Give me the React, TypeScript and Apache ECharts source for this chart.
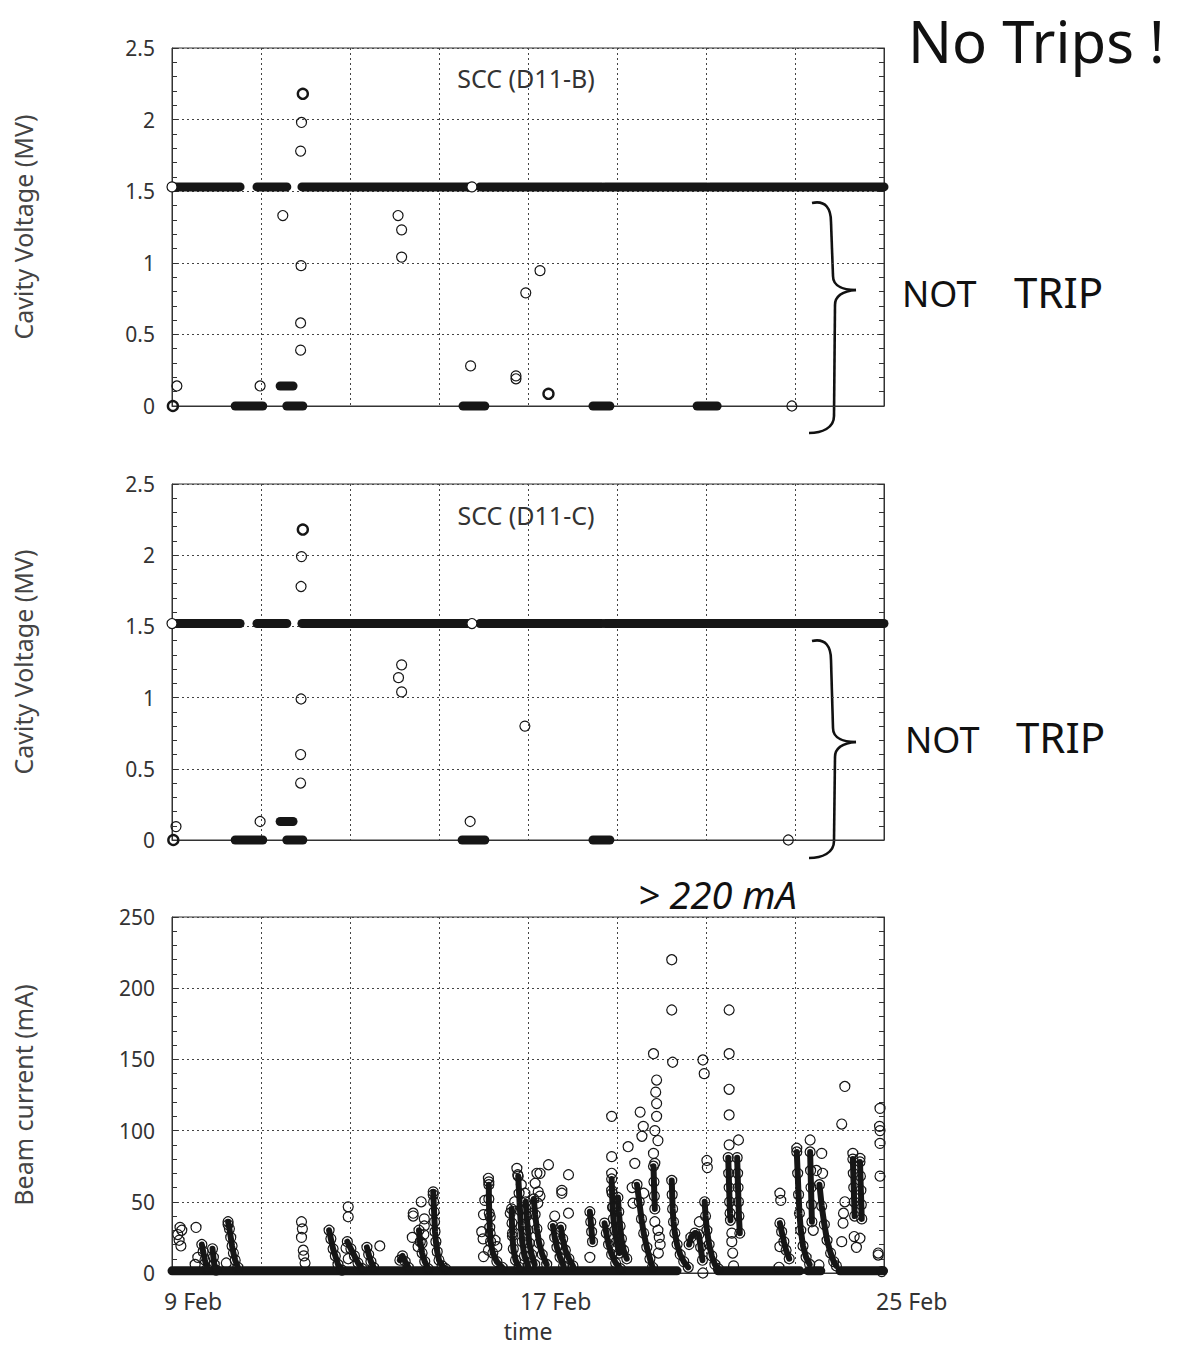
import React, { useEffect, useRef } from "react";
import * as echarts from "echarts";

const FONT = '"Noto Sans", "DejaVu Sans", sans-serif';
const INK = "#161616";
const TXT = "#333";

// x is measured in days since 9 Feb
const xTickDays = [0, 8, 16];
const xTickLabels = ["9 Feb", "17 Feb", "25 Feb"];

// [startDay, endDay, value] dense runs of points
const voltBRuns = [
  [0.0, 1.53, 1.53], [1.91, 2.58, 1.53], [2.92, 6.74, 1.53], [6.92, 9.66, 1.53],
  [9.73, 12.02, 1.53], [12.09, 16.0, 1.53],
  [1.42, 2.04, 0], [2.58, 2.94, 0], [6.54, 7.03, 0], [9.46, 9.84, 0], [11.8, 12.25, 0],
  [2.43, 2.72, 0.14],
];
const voltBPoints = [
  [2.91, 1.98], [2.89, 1.78], [2.49, 1.33], [2.9, 0.98], [2.89, 0.58], [2.89, 0.39],
  [0.11, 0.14], [1.98, 0.14], [5.08, 1.33], [5.16, 1.23], [5.16, 1.04], [6.71, 0.28],
  [7.73, 0.19], [7.73, 0.21], [7.95, 0.79], [8.27, 0.945], [13.93, 0.0],
];
const voltBBold = [[2.94, 2.18], [8.46, 0.085], [0.02, 0.0]];
const voltBOnLine = [[0.0, 1.53], [6.74, 1.53]];

const voltCRuns = [
  [0.0, 1.53, 1.52], [1.91, 2.58, 1.52], [2.92, 6.74, 1.52], [6.92, 9.66, 1.52],
  [9.73, 16.0, 1.52],
  [1.42, 2.04, 0], [2.58, 2.94, 0], [6.52, 7.03, 0], [9.46, 9.84, 0],
  [2.43, 2.72, 0.13],
];
const voltCPoints = [
  [2.91, 1.99], [2.9, 1.78], [2.9, 0.99], [2.89, 0.6], [2.89, 0.4], [0.09, 0.094],
  [1.98, 0.13], [5.16, 1.23], [5.09, 1.14], [5.16, 1.04], [6.7, 0.13], [7.93, 0.8],
  [13.85, 0.0],
];
const voltCBold = [[2.94, 2.18], [0.03, 0.0]];
const voltCOnLine = [[0.0, 1.52], [6.74, 1.52]];

// beam current (mA)
const beamBaselineRuns = [
  [0.0, 11.35, 1.5], [12.27, 14.11, 1.5], [14.29, 14.58, 1.5], [15.01, 15.99, 1.5],
];
const beamChains = [
  [[0.67, 20], [0.7, 15], [0.74, 9], [0.79, 3]],
  [[0.91, 17], [0.93, 11], [0.95, 6], [0.99, 2]],
  [[1.26, 36], [1.29, 31], [1.32, 25], [1.35, 19], [1.38, 14], [1.42, 9], [1.48, 4]],
  [[3.53, 30], [3.57, 24], [3.62, 17], [3.67, 12], [3.73, 6], [3.82, 2]],
  [[3.94, 22], [4.02, 17], [4.1, 12], [4.18, 7], [4.28, 3]],
  [[4.38, 18], [4.42, 13], [4.47, 8], [4.53, 4]],
  [[5.12, 9], [5.18, 12], [5.24, 8], [5.31, 4]],
  [[5.55, 30], [5.58, 22], [5.62, 14], [5.68, 8], [5.76, 3]],
  [[5.87, 57], [5.88, 50], [5.89, 43], [5.9, 36], [5.91, 29], [5.93, 22], [5.96, 15], [6.0, 9], [6.07, 5], [6.15, 3]],
  [[7.12, 62], [7.12, 52], [7.13, 42], [7.14, 32], [7.16, 22], [7.21, 14], [7.3, 8], [7.42, 4]],
  [[7.63, 45], [7.64, 35], [7.65, 26], [7.67, 17], [7.72, 9], [7.8, 4]],
  [[7.78, 68], [7.8, 56], [7.82, 44], [7.84, 33], [7.87, 22], [7.92, 12], [8.0, 5]],
  [[7.95, 50], [7.97, 40], [8.0, 30], [8.03, 21], [8.08, 13], [8.15, 6]],
  [[8.13, 52], [8.16, 41], [8.2, 31], [8.25, 21], [8.32, 13], [8.42, 6]],
  [[8.56, 33], [8.6, 25], [8.65, 18], [8.72, 11], [8.8, 5]],
  [[8.74, 32], [8.78, 24], [8.84, 16], [8.92, 10], [9.01, 5]],
  [[9.39, 43], [9.41, 36], [9.43, 29], [9.45, 22]],
  [[9.72, 35], [9.76, 28], [9.81, 20], [9.88, 13], [9.97, 7], [10.08, 3]],
  [[9.88, 66], [9.89, 56], [9.9, 46], [9.92, 38], [9.95, 30], [9.99, 22], [10.05, 14]],
  [[10.02, 53], [10.04, 43], [10.07, 33], [10.1, 24], [10.15, 16], [10.22, 10]],
  [[10.45, 62], [10.5, 50], [10.55, 38], [10.6, 28], [10.67, 18], [10.74, 10], [10.8, 4]],
  [[10.82, 75], [10.83, 64], [10.84, 54], [10.85, 45]],
  [[11.23, 65], [11.24, 55], [11.25, 45], [11.27, 36], [11.3, 28], [11.35, 20], [11.42, 13], [11.5, 8], [11.6, 4]],
  [[11.62, 20], [11.66, 25], [11.75, 28], [11.84, 27], [11.88, 18], [11.92, 9]],
  [[11.97, 50], [11.99, 40], [12.02, 30], [12.07, 20], [12.13, 12], [12.2, 6], [12.28, 3]],
  [[12.5, 81], [12.51, 70], [12.52, 60], [12.53, 50], [12.54, 42], [12.55, 37]],
  [[12.7, 81], [12.71, 70], [12.72, 60], [12.73, 50], [12.74, 40], [12.76, 28]],
  [[13.66, 35], [13.7, 29], [13.75, 22], [13.8, 16], [13.87, 10]],
  [[14.04, 85], [14.06, 70], [14.08, 55], [14.1, 42], [14.13, 30], [14.18, 19], [14.25, 11], [14.33, 6]],
  [[14.34, 85], [14.35, 72], [14.36, 60], [14.37, 48], [14.38, 36]],
  [[14.55, 62], [14.6, 47], [14.66, 34], [14.72, 23], [14.8, 14], [14.87, 8], [14.93, 5]],
  [[15.3, 80], [15.31, 70], [15.32, 60], [15.33, 50], [15.34, 40]],
  [[15.46, 78], [15.47, 68], [15.48, 58], [15.49, 48], [15.5, 38]],
];
const beamPoints = [
  [0.13, 27], [0.18, 32], [0.22, 30], [0.16, 23], [0.2, 19], [0.54, 32], [0.52, 6], [0.58, 11],
  [1.26, 34], [1.22, 7],
  [2.91, 36], [2.93, 31], [2.91, 25], [2.95, 16], [2.96, 12], [2.99, 7],
  [3.96, 46.5], [3.96, 39.5], [3.91, 17.5], [3.96, 10],
  [4.67, 19],
  [5.42, 42], [5.42, 40], [5.4, 25], [5.53, 18.5], [5.6, 50], [5.67, 38], [5.67, 33], [5.66, 27], [5.62, 21], [5.87, 55],
  [7.11, 66.5], [7.12, 64], [7.03, 51], [7.0, 41], [6.96, 29], [6.99, 24], [7.15, 39.5], [7.15, 28], [7.11, 16], [7.0, 11.5], [7.3, 18.5], [7.26, 23],
  [7.75, 73.5], [7.77, 69], [7.85, 62], [7.93, 56], [7.95, 45], [7.6, 42], [7.65, 28], [8.2, 70], [8.22, 49], [8.27, 70], [8.16, 63], [8.46, 76], [8.27, 54], [7.7, 50], [8.1, 42], [8.23, 57],
  [8.91, 69], [8.76, 58], [8.76, 56], [8.91, 42], [8.6, 40],
  [9.39, 11],
  [9.88, 110], [9.88, 81.7], [9.88, 70], [9.88, 58], [9.91, 46.5],
  [10.25, 88.7], [10.52, 113], [10.59, 103], [10.56, 96], [10.4, 77], [10.36, 49], [10.34, 60], [10.6, 56],
  [10.82, 154], [10.89, 135.5], [10.87, 127], [10.89, 119], [10.89, 110], [10.85, 100], [10.92, 93], [10.82, 84], [10.85, 77], [10.85, 36], [10.92, 30], [10.95, 25], [10.97, 20], [10.93, 14],
  [11.23, 220], [11.23, 184.7], [11.25, 148], [11.85, 36],
  [11.93, 149.6], [11.96, 140], [12.02, 79], [12.03, 74], [11.93, 0],
  [12.52, 184.7], [12.52, 154], [12.52, 129], [12.52, 111], [12.52, 90], [12.73, 93.4], [12.58, 28], [12.58, 22], [12.6, 14], [12.62, 5],
  [13.66, 56], [13.68, 51], [13.66, 18.5], [13.64, 4],
  [14.04, 87.6], [14.34, 93.4], [14.6, 84], [14.62, 70], [14.41, 30], [14.54, 5.6], [14.48, 72],
  [15.12, 131], [15.05, 104.6], [15.12, 50], [15.09, 42], [15.08, 35], [15.05, 22], [15.3, 84], [15.46, 80.5], [15.33, 25.6], [15.46, 24.4], [15.38, 18],
  [15.91, 115.6], [15.9, 103], [15.91, 100], [15.91, 91], [15.91, 68], [15.87, 12.6], [15.87, 14], [15.95, 1],
];

function runSeries(runs: number[][], idx: number, width: number) {
  return runs.map(([a, b, v]) => ({
    type: "line", xAxisIndex: idx, yAxisIndex: idx * 2,
    data: [[a, v], [b, v]], symbol: "none", silent: true, clip: false, z: 3,
    lineStyle: { width, color: INK, cap: "round" },
  }));
}
function scatter(points: number[][], idx: number, bw: number, fill: string, z = 4) {
  return {
    type: "scatter", xAxisIndex: idx, yAxisIndex: idx * 2, data: points,
    symbol: "circle", symbolSize: 10, clip: false, silent: true, z,
    itemStyle: { color: fill, borderColor: INK, borderWidth: bw, opacity: 1 },
  };
}
function chainSeries(chains: number[][][], idx: number) {
  return chains.map((c) => ({
    type: "line", xAxisIndex: idx, yAxisIndex: idx * 2, data: c,
    symbol: "circle", symbolSize: 10, showSymbol: true, silent: true, clip: false, z: 3,
    lineStyle: { width: 6, color: INK, cap: "round", join: "round" },
    itemStyle: { color: "rgba(255,255,255,0)", borderColor: INK, borderWidth: 1.2 },
  }));
}

const GRIDS = [
  { left: 172, top: 48, width: 712, height: 358 },
  { left: 172, top: 484, width: 712, height: 356 },
  { left: 172, top: 917, width: 712, height: 356 },
];

function yAxes(idx: number, max: number, interval: number, name: string) {
  const common = {
    gridIndex: idx, type: "value", min: 0, max, interval,
    axisLine: { show: true, lineStyle: { color: "#333", width: 1 } },
    axisTick: { show: true, inside: true, length: 6, lineStyle: { color: "#333" } },
    minorTick: { show: true, splitNumber: 5, length: 5, lineStyle: { color: "#333" } },
  };
  return [
    {
      ...common, position: "left",
      splitLine: { show: true, lineStyle: { type: [2, 3], color: "#444", width: 1 } },
      axisLabel: { fontSize: 21, color: TXT, fontFamily: FONT, margin: 17 },
      name, nameLocation: "middle", nameGap: 137,
      nameTextStyle: { fontSize: 25, color: "#444", fontFamily: FONT },
    },
    {
      ...common, position: "right",
      splitLine: { show: false }, axisLabel: { show: false },
    },
  ];
}

function xAxis(idx: number, showLabels: boolean) {
  return {
    gridIndex: idx, type: "value", min: 0, max: 16, interval: 2,
    axisLine: { show: true, lineStyle: { color: "#333" } },
    axisTick: { show: false },
    splitLine: { show: true, lineStyle: { type: [2, 3], color: "#444", width: 1 } },
    axisLabel: showLabels
      ? {
          show: true, fontSize: 23, color: TXT, fontFamily: FONT, margin: 16, align: "left",
          padding: [0, 0, 0, -8],
          showMinLabel: true, showMaxLabel: true,
          formatter: (v: number) => {
            const i = xTickDays.indexOf(v);
            return i >= 0 ? xTickLabels[i] : "";
          },
        }
      : { show: false },
    name: showLabels ? "time" : "",
    nameLocation: "middle", nameGap: 46,
    nameTextStyle: { fontSize: 23, color: TXT, fontFamily: FONT },
  };
}

function brace(top: number, tip: number, bottom: number) {
  const st = { stroke: "#111", lineWidth: 2.6, fill: "none" };
  return [
    { type: "bezierCurve", shape: { x1: 812, y1: top, cpx1: 826, cpy1: top - 3, cpx2: 831, cpy2: top + 6, x2: 831, y2: top + 19 }, style: st },
    { type: "line", shape: { x1: 831, y1: top + 19, x2: 833, y2: tip - 14 }, style: st },
    { type: "bezierCurve", shape: { x1: 833, y1: tip - 14, cpx1: 833, cpy1: tip - 3, cpx2: 845, cpy2: tip, x2: 856, y2: tip }, style: st },
    { type: "bezierCurve", shape: { x1: 856, y1: tip, cpx1: 845, cpy1: tip + 1, cpx2: 835, cpy2: tip + 5, x2: 835, y2: tip + 15 }, style: st },
    { type: "line", shape: { x1: 835, y1: tip + 15, x2: 834, y2: bottom - 17 }, style: st },
    { type: "bezierCurve", shape: { x1: 834, y1: bottom - 17, cpx1: 834, cpy1: bottom - 5, cpx2: 822, cpy2: bottom, x2: 809, y2: bottom }, style: st },
  ];
}

function txt(text: string, x: number, y: number, size: number, extra: any = {}) {
  return {
    type: "text", x, y, silent: true, z: 10,
    style: { text, fontSize: size, fontFamily: FONT, fill: extra.fill || "#111", align: extra.align || "left", verticalAlign: "middle", fontStyle: extra.fontStyle || "normal" },
  };
}

export default function App() {
  const ref = useRef<HTMLDivElement>(null);
  useEffect(() => {
    if (!ref.current) return;
    const chart = echarts.init(ref.current, undefined, { renderer: "svg" });
    const option: any = {
      animation: false,
      backgroundColor: "#fff",
      grid: GRIDS.map((g) => ({ ...g, show: true, borderColor: "#333", borderWidth: 1, backgroundColor: "transparent" })),
      xAxis: [xAxis(0, false), xAxis(1, false), xAxis(2, true)],
      yAxis: [
        ...yAxes(0, 2.5, 0.5, "Cavity Voltage (MV)"),
        ...yAxes(1, 2.5, 0.5, "Cavity Voltage (MV)"),
        ...yAxes(2, 250, 50, "Beam current (mA)"),
      ],
      series: [
        ...runSeries(voltBRuns, 0, 9),
        scatter(voltBPoints, 0, 1.2, "rgba(255,255,255,0)"),
        scatter(voltBBold, 0, 2.4, "rgba(255,255,255,0)"),
        scatter(voltBOnLine, 0, 1.2, "#fff", 5),
        ...runSeries(voltCRuns, 1, 9),
        scatter(voltCPoints, 1, 1.2, "rgba(255,255,255,0)"),
        scatter(voltCBold, 1, 2.4, "rgba(255,255,255,0)"),
        scatter(voltCOnLine, 1, 1.2, "#fff", 5),
        ...runSeries(beamBaselineRuns, 2, 9),
        ...chainSeries(beamChains, 2),
        scatter(beamPoints, 2, 1.2, "rgba(255,255,255,0)"),
      ],
      graphic: [
        txt("SCC (D11-B)", 526, 78, 25, { align: "center", fill: "#333" }),
        txt("SCC (D11-C)", 526, 515, 25, { align: "center", fill: "#333" }),
        txt("No Trips !", 908, 40, 58),
        txt("NOT", 902, 293, 36),
        txt("TRIP", 1014, 291, 42),
        txt("NOT", 905, 739, 36),
        txt("TRIP", 1016, 736, 42),
        txt("> 220 mA", 638, 894, 38, { fontStyle: "italic" }),
        ...brace(203, 290, 433),
        ...brace(641, 742, 858),
      ],
    };
    chart.setOption(option);
    return () => chart.dispose();
  }, []);
  return (
    <div
      ref={ref}
      style={{ position: "absolute", left: 0, top: 0, width: 1188, height: 1346, background: "#fff" }}
    />
  );
}
